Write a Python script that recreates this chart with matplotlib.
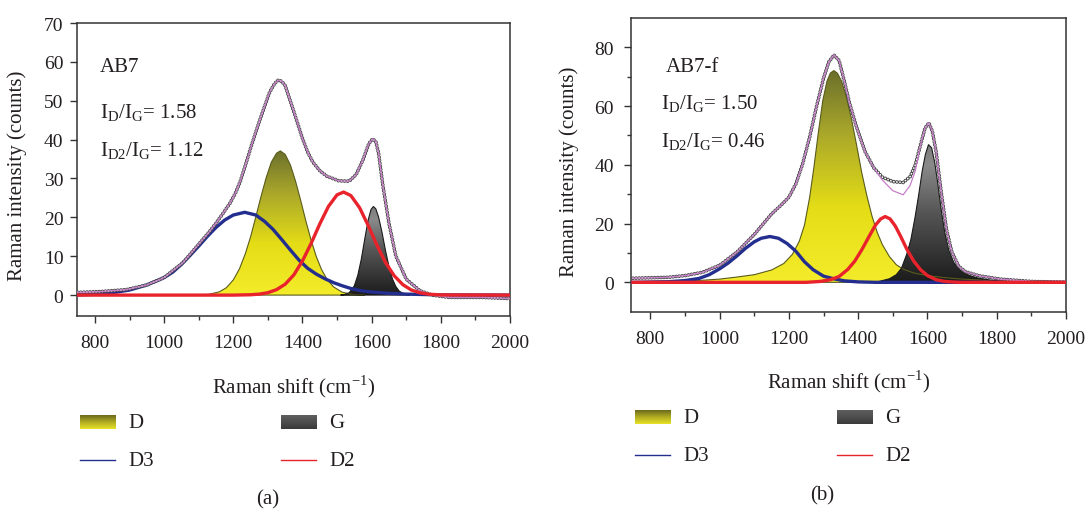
import numpy as np
import matplotlib
matplotlib.use("Agg")
import matplotlib.pyplot as plt
import matplotlib.patheffects as pe
from matplotlib.patches import Polygon
from matplotlib.colors import LinearSegmentedColormap

plt.rcParams['font.family'] = ['Liberation Serif', 'DejaVu Serif']

# ---- sample AB7 (a) ----
a_obs_x = [750, 815, 890, 950, 1000, 1055, 1105, 1130, 1150, 1170, 1190, 1205, 1220, 1235, 1250,
           1275, 1305, 1320, 1330, 1340, 1350, 1372, 1400, 1415, 1430, 1450, 1470, 1505, 1535,
           1555, 1575, 1592, 1603, 1612, 1620, 1632, 1650, 1670, 1700, 1740, 1775, 1825, 1920, 2000]
a_obs_y = [0.7, 0.9, 1.4, 2.6, 4.5, 8.4, 13.6, 16.2, 18.5, 21.0, 23.6, 26.0, 29.2, 33.4, 37.8,
           44.6, 52.2, 54.5, 55.3, 55.0, 53.9, 48.0, 40.3, 36.8, 34.2, 32.0, 30.6, 29.4, 29.3,
           31.0, 34.8, 39.0, 40.2, 39.5, 36.5, 28.5, 18.5, 10.0, 4.1, 1.1, 0.0, -0.6, -0.6, -0.9]

a_d_x = [1100, 1130, 1160, 1180, 1200, 1218, 1235, 1250, 1265, 1280, 1295, 1310, 1325, 1336,
         1350, 1365, 1380, 1395, 1410, 1425, 1440, 1455, 1470, 1490, 1515, 1545, 1580]
a_d_y = [0.0, 0.2, 0.85, 1.9, 3.9, 6.8, 10.7, 15.0, 20.1, 25.3, 30.2, 34.2, 36.5, 37.1,
         36.2, 33.5, 29.3, 24.3, 19.0, 14.1, 9.9, 6.6, 4.2, 2.1, 0.74, 0.18, 0.0]

a_g_x = [1510, 1520, 1535, 1550, 1560, 1570, 1580, 1590, 1598, 1605,
         1612, 1620, 1630, 1640, 1650, 1660, 1670, 1680, 1695, 1710]
a_g_y = [0.0, 0.1, 0.6, 2.4, 5.1, 9.2, 14.4, 19.3, 22.0, 22.8,
         22.2, 20.1, 16.1, 11.5, 7.4, 4.2, 2.2, 1.0, 0.25, 0.0]

a_d3_x = [750, 800, 850, 900, 950, 1000, 1025, 1050, 1075, 1100, 1125, 1150, 1175, 1200, 1233,
          1265, 1290, 1315, 1340, 1365, 1390, 1415, 1440, 1465, 1490, 1515, 1540, 1570, 1600,
          1650, 1700, 1800, 2000]
a_d3_y = [0.05, 0.2, 0.6, 1.3, 2.6, 4.5, 5.9, 7.9, 10.2, 12.6, 15.1, 17.4, 19.3, 20.6, 21.3,
          20.6, 19.0, 16.9, 14.3, 11.6, 9.0, 6.9, 5.4, 4.2, 3.2, 2.4, 1.7, 1.1, 0.8,
          0.45, 0.25, 0.05, 0.0]

a_d2_x = [750, 1200, 1250, 1275, 1300, 1325, 1350, 1375, 1400, 1425, 1450, 1475, 1500, 1519,
          1540, 1565, 1590, 1615, 1640, 1665, 1690, 1715, 1740, 1765, 1800, 2000]
a_d2_y = [0.0, 0.0, 0.09, 0.25, 0.62, 1.4, 2.8, 5.2, 8.8, 13.3, 18.3, 22.8, 25.8, 26.5,
          25.6, 22.5, 17.9, 12.9, 8.4, 5.0, 2.7, 1.3, 0.58, 0.23, 0.05, 0.0]

# ---- sample AB7-f (b) ----
b_obs_x = [750, 850, 900, 950, 1000, 1050, 1100, 1150, 1175, 1200, 1220, 1240, 1260, 1280,
           1300, 1315, 1330, 1345, 1360, 1375, 1395, 1420, 1445, 1470, 1500, 1530, 1550, 1565,
           1580, 1593, 1604, 1614, 1625, 1640, 1655, 1670, 1690, 1710, 1750, 1810, 1900, 2000]
b_obs_y = [1.4, 1.7, 2.3, 3.4, 5.8, 10.3, 16.3, 23.3, 26.0, 29.0, 33.5, 40.5, 49.5, 60.0,
           69.5, 75.0, 77.4, 75.5, 68.5, 61.0, 53.0, 44.5, 39.0, 35.8, 34.3, 34.0, 36.0, 40.0,
           46.8, 52.5, 54.3, 51.5, 44.5, 30.5, 18.0, 10.5, 5.5, 3.6, 2.2, 1.1, 0.3, 0.0]
b_fit_y = [1.4, 1.7, 2.3, 3.4, 5.8, 10.3, 16.3, 23.3, 26.0, 29.0, 33.5, 40.5, 49.5, 60.0,
           69.5, 75.0, 77.4, 75.5, 68.5, 61.0, 53.0, 44.5, 39.0, 34.8, 31.2, 29.8, 33.0, 38.0,
           46.8, 52.5, 54.3, 51.5, 44.5, 30.5, 18.0, 10.5, 5.5, 3.6, 2.2, 1.1, 0.3, 0.0]

b_d_x = [750, 850, 950, 1000, 1050, 1100, 1150, 1185, 1210, 1230, 1245, 1260, 1272, 1285,
         1298, 1310, 1320, 1330, 1340, 1352, 1365, 1380, 1395, 1410, 1425, 1440, 1455, 1470,
         1490, 1510, 1530, 1560, 1600, 1650, 1700, 1800, 2000]
b_d_y = [0.2, 0.4, 0.7, 1.1, 1.8, 2.6, 4.2, 6.4, 9.5, 14.0, 19.5, 29.0, 39.0, 51.0,
         62.0, 68.5, 71.3, 72.1, 71.2, 68.5, 63.5, 56.0, 47.0, 37.5, 29.5, 22.5, 17.0, 12.8,
         8.8, 6.0, 4.5, 3.2, 2.3, 1.6, 1.1, 0.5, 0.2]

b_g_x = [1460, 1490, 1510, 1525, 1540, 1552, 1564, 1575, 1585, 1594, 1603, 1612, 1621, 1630,
         1640, 1650, 1662, 1676, 1690, 1705, 1725, 1745, 1780, 1810, 1850]
b_g_y = [0.3, 1.2, 2.6, 4.8, 9.5, 14.5, 22.0, 30.0, 38.0, 43.5, 46.9, 45.8, 40.8, 33.5,
         24.5, 17.0, 10.8, 6.8, 4.6, 3.2, 2.2, 1.5, 0.8, 0.5, 0.2]

b_d3_x = [750, 850, 900, 940, 970, 1000, 1025, 1050, 1075, 1100, 1120, 1145, 1170, 1195,
          1220, 1245, 1270, 1300, 1330, 1360, 1400, 1450, 2000]
b_d3_y = [0.0, 0.2, 0.6, 1.3, 2.6, 4.6, 6.6, 9.0, 11.6, 13.8, 15.0, 15.6, 15.0, 13.2,
          10.6, 7.0, 4.3, 2.1, 1.2, 0.5, 0.15, 0.0, 0.0]

b_d2_x = [750, 1250, 1290, 1320, 1345, 1370, 1390, 1410, 1430, 1450, 1465, 1478, 1492, 1507,
          1522, 1540, 1560, 1580, 1600, 1625, 1650, 1690, 2000]
b_d2_y = [0.0, 0.0, 0.3, 0.9, 2.0, 4.4, 7.2, 11.0, 15.3, 19.5, 21.6, 22.4, 21.6, 19.2,
          15.8, 11.4, 7.3, 4.3, 2.3, 0.9, 0.3, 0.0, 0.0]

TXT = '#231f20'
BLUE = '#232e8f'
RED = '#e8232b'
PURPLE = '#c77dc9'

d_cmap = LinearSegmentedColormap.from_list(
    'dband', [(0, '#f4ec2a'), (0.35, '#e4dd16'), (0.7, '#aaa82a'), (1.0, '#6b6f2c')])
g_cmap = LinearSegmentedColormap.from_list(
    'gband', [(0, '#1c1c1c'), (0.5, '#555555'), (0.85, '#8a8a8a'), (1.0, '#7c7c7c')])


def gradient_fill(ax, x, y, cmap, edge):
    verts = [(x[0], 0)] + list(zip(x, y)) + [(x[-1], 0)]
    poly = Polygon(verts, closed=True, facecolor='none', edgecolor=edge, lw=0.8, zorder=3)
    ax.add_patch(poly)
    grad = np.linspace(0, 1, 256).reshape(-1, 1)
    im = ax.imshow(grad, extent=[x[0], x[-1], 0, max(y)], origin='lower',
                   aspect='auto', cmap=cmap, zorder=2)
    im.set_clip_path(poly)


def draw_panel(ax, obs_x, obs_y, fit_y, d, g, d3, d2, ylim, yticks, yminor, ypad):
    gradient_fill(ax, d[0], d[1], d_cmap, '#5a5c1c')
    gradient_fill(ax, g[0], g[1], g_cmap, '#1a1a1a')
    ax.plot(d3[0], d3[1], color=BLUE, lw=2.4, zorder=4, solid_joinstyle='round')
    # measured points as small open circles along the trace
    ax.plot(obs_x, obs_y, color='white', lw=1.3, ls=(0, (0.01, 1.7)),
            dash_capstyle='round', zorder=5,
            path_effects=[pe.Stroke(linewidth=2.7, foreground='#4a4a4a'), pe.Normal()])
    ax.plot(obs_x, fit_y, color=PURPLE, lw=0.9, zorder=6)
    ax.plot(d2[0], d2[1], color=RED, lw=2.4, zorder=7, solid_joinstyle='round')

    ax.set_ylim(*ylim)
    ax.set_xticks(range(800, 2001, 200))
    ax.set_xticks(range(900, 2000, 200), minor=True)
    ax.set_yticks(yticks)
    ax.set_yticks(yminor, minor=True)
    ax.tick_params(which='both', direction='out', colors='#333333', labelcolor=TXT,
                   labelsize=14, width=1.0)
    ax.tick_params(which='major', length=5)
    ax.tick_params(which='minor', length=3)
    ax.tick_params(axis='x', pad=8)
    ax.tick_params(axis='y', pad=ypad)
    for s in ax.spines.values():
        s.set_color('#333333')
        s.set_linewidth(1.1)
    ax.set_xlabel('Raman shift (cm$^\\mathregular{-1}$)', fontsize=15, color=TXT)
    ax.set_ylabel('Raman intensity (counts)', fontsize=15, color=TXT)


W, H = 1087, 510
fig = plt.figure(figsize=(W / 100, H / 100), dpi=100)
ax_a = fig.add_axes([77.3 / W, 1 - 316.7 / H, (510 - 77.3) / W, (316.7 - 24) / H])
ax_b = fig.add_axes([631.3 / W, 1 - 312.7 / H, (1066 - 631.3) / W, (312.7 - 19) / H])

draw_panel(ax_a, a_obs_x, a_obs_y, a_obs_y, (a_d_x, a_d_y), (a_g_x, a_g_y),
           (a_d3_x, a_d3_y), (a_d2_x, a_d2_y), (-5.3, 70), range(0, 71, 10), [], 5)
draw_panel(ax_b, b_obs_x, b_obs_y, b_fit_y, (b_d_x, b_d_y), (b_g_x, b_g_y),
           (b_d3_x, b_d3_y), (b_d2_x, b_d2_y), (-10, 90), range(0, 81, 20), [10, 30, 50, 70], 7.5)
ax_a.set_xlim(749, 2000)
ax_b.set_xlim(745, 2000)
ax_a.xaxis.set_label_coords(0.5, -0.192)
ax_b.xaxis.set_label_coords(0.5, -0.188)
ax_a.yaxis.set_label_coords(-0.117, 0.48)
ax_b.yaxis.set_label_coords(-0.121, 0.48)

# overlay in pixel units for annotations and the legends under each panel
ov = fig.add_axes([0, 0, 1, 1])
ov.set_xlim(0, W)
ov.set_ylim(H, 0)
ov.axis('off')

fs = 15
ov.text(100, 72.3, 'AB7', fontsize=fs, color=TXT, va='baseline')
ov.text(99.5, 118.3, 'I$_\\mathregular{D}$/I$_\\mathregular{G}$= 1.58', fontsize=fs, color=TXT, va='baseline')
ov.text(99.5, 156, 'I$_\\mathregular{D2}$/I$_\\mathregular{G}$= 1.12', fontsize=fs, color=TXT, va='baseline')
ov.text(665.3, 71.7, 'AB7-f', fontsize=fs, color=TXT, va='baseline')
ov.text(661, 109.3, 'I$_\\mathregular{D}$/I$_\\mathregular{G}$= 1.50', fontsize=fs, color=TXT, va='baseline')
ov.text(661, 147.7, 'I$_\\mathregular{D2}$/I$_\\mathregular{G}$= 0.46', fontsize=fs, color=TXT, va='baseline')

sw_d = LinearSegmentedColormap.from_list('swd', ['#e8e226', '#b0ac22', '#6c6a1e'])
sw_g = LinearSegmentedColormap.from_list('swg', ['#3a3a3a', '#4e4e4e', '#5e5e5e'])
swatch = np.linspace(0, 1, 64).reshape(-1, 1)


def legend_block(x0, x1, y_sw, y_ln):
    # left column: D and D3, right column: G and D2
    for (sx, cm, lab) in [(x0, sw_d, 'D'), (x1, sw_g, 'G')]:
        ov.imshow(swatch[::-1], extent=(sx, sx + 36, y_sw + 7, y_sw - 7), origin='upper',
                  cmap=cm, aspect='auto')
        ov.text(sx + 48, y_sw + 1, lab, fontsize=fs, color=TXT, va='center')
    for (sx, col, lab) in [(x0, BLUE, 'D3'), (x1, RED, 'D2')]:
        ov.plot([sx, sx + 35], [y_ln, y_ln], color=col, lw=1.0)
        ov.text(sx + 48, y_ln + 1, lab, fontsize=fs, color=TXT, va='center')


legend_block(80, 281, 423, 461)
legend_block(635, 837, 418, 456)
ov.set_xlim(0, W)
ov.set_ylim(H, 0)
ov.text(268, 500, '(a)', fontsize=fs, color=TXT, ha='center', va='center')
ov.text(822, 496, '(b)', fontsize=fs, color=TXT, ha='center', va='center')

fig.savefig('out.png', dpi=100, facecolor='white')
